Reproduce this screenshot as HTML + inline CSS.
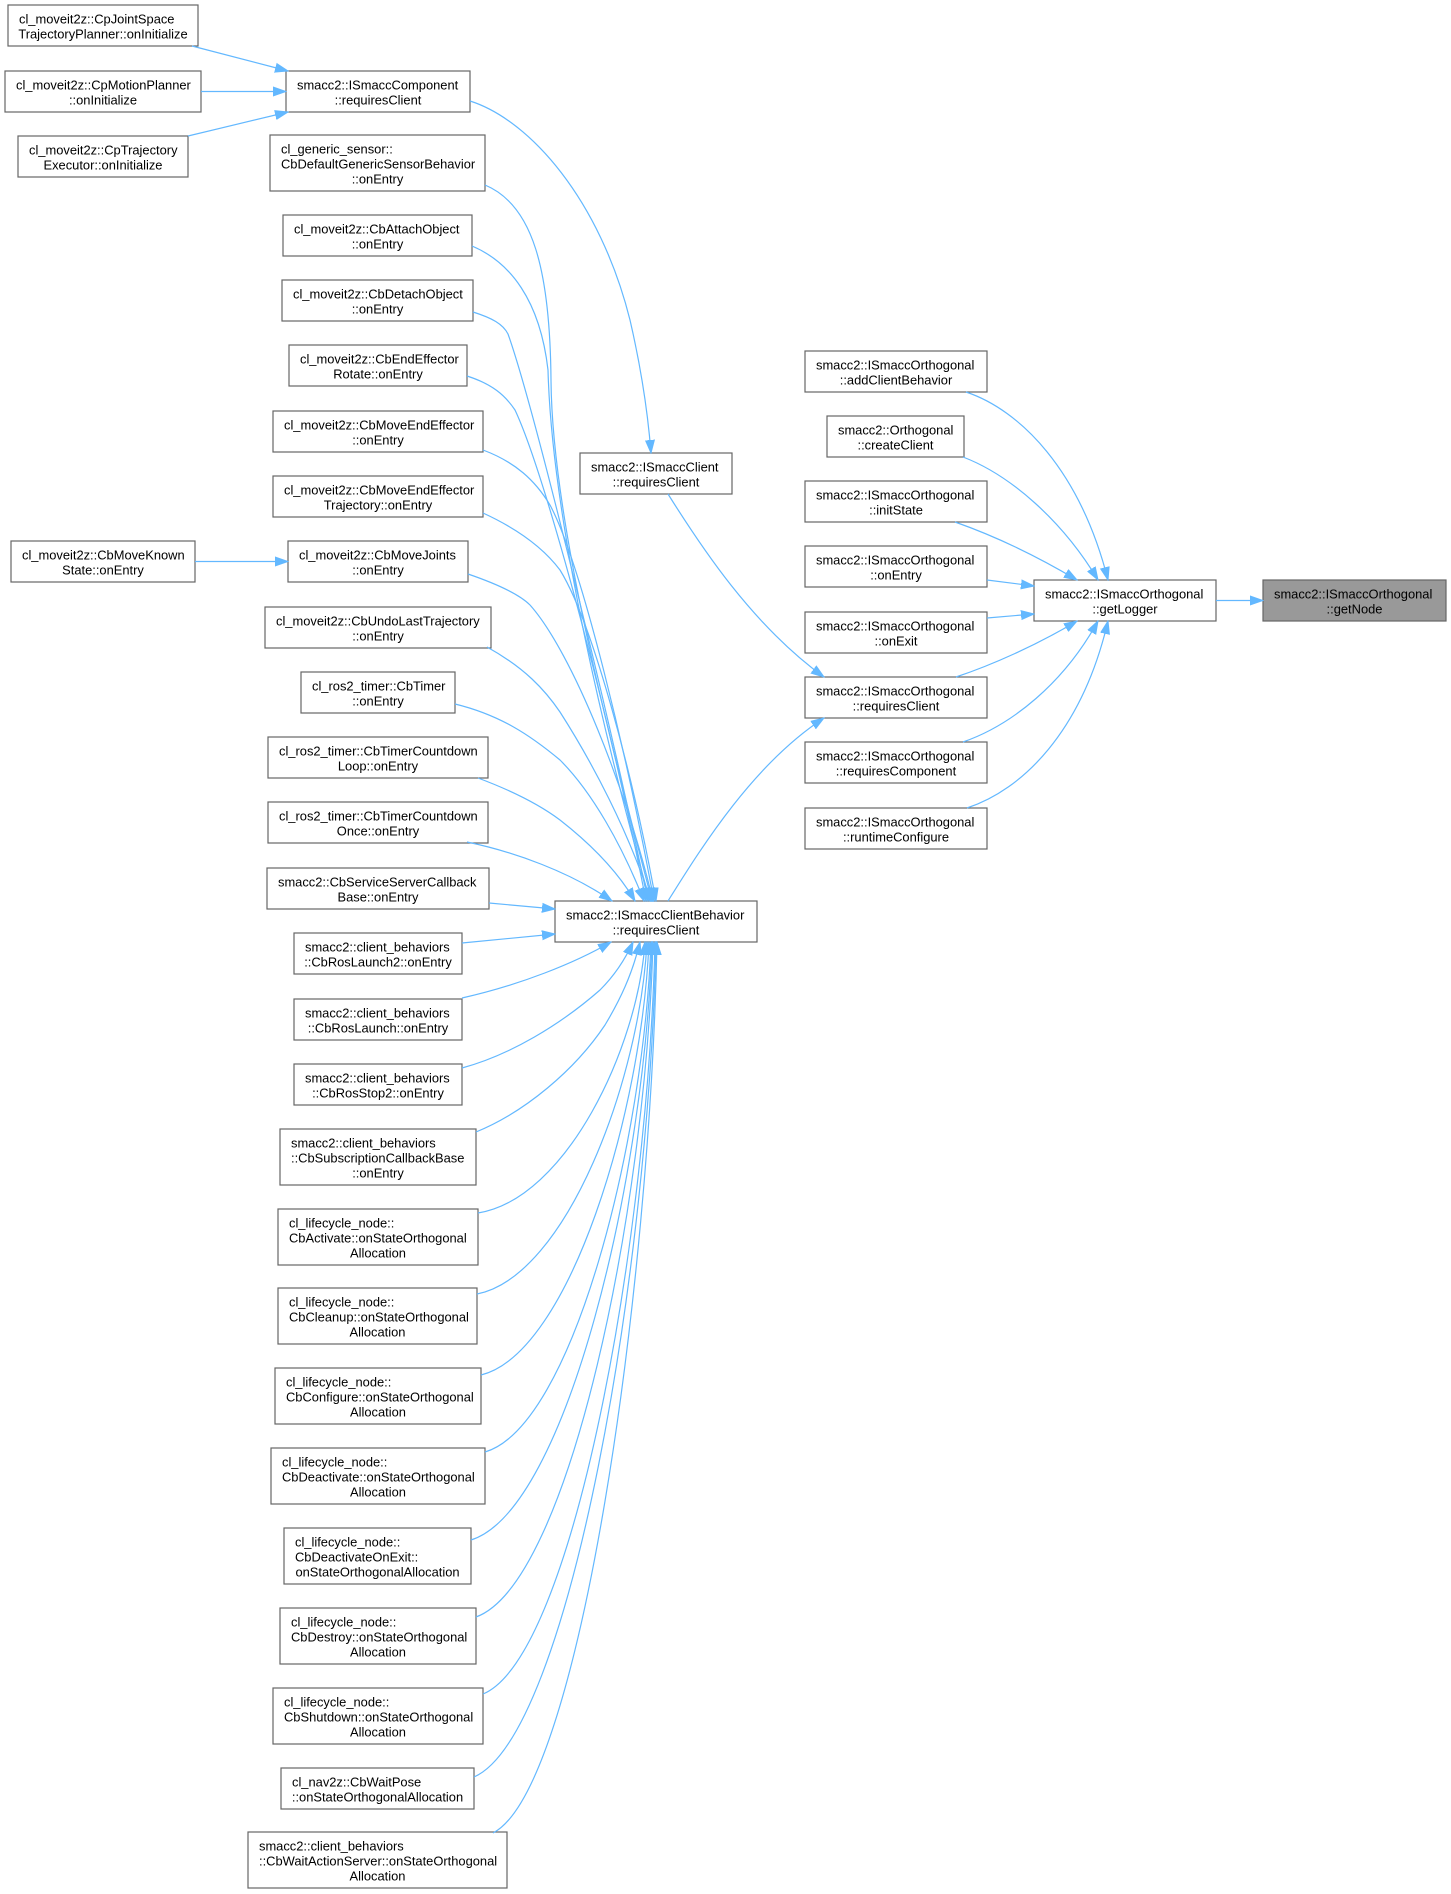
<!DOCTYPE html>
<html>
<head>
<meta charset="utf-8">
<style>
html,body{margin:0;padding:0;background:#fff;}
svg{display:block;}
text{font-family:"Liberation Sans",Arial,sans-serif;font-size:12.9px;fill:#000;}
.n{fill:#fff;stroke:#666;stroke-width:1.2;}
.g{fill:#999;stroke:#666;stroke-width:1.2;}
.e{fill:none;stroke:#63b8ff;stroke-width:1.2;marker-end:url(#ah);}
.m{text-anchor:middle;}
</style>
</head>
<body>
<svg width="1451" height="1894" viewBox="0 0 1451 1894" xmlns="http://www.w3.org/2000/svg">
<defs>
<marker id="ah" markerUnits="userSpaceOnUse" markerWidth="14" markerHeight="11" refX="13" refY="5.5" orient="auto">
<path d="M0,1 L13,5.5 L0,10 z" fill="#63b8ff" stroke="#63b8ff" stroke-width="1"/>
</marker>
</defs>

<!-- Left column -->
<rect class="n" x="8" y="5" width="190" height="41"/>
<text x="19" y="23.4">cl_moveit2z::CpJointSpace</text>
<text class="m" x="103" y="38.5">TrajectoryPlanner::onInitialize</text>

<rect class="n" x="5" y="71" width="196" height="41"/>
<text x="16" y="89.4">cl_moveit2z::CpMotionPlanner</text>
<text class="m" x="103" y="104.5">::onInitialize</text>

<rect class="n" x="18" y="136" width="170" height="41"/>
<text x="29" y="154.4">cl_moveit2z::CpTrajectory</text>
<text class="m" x="103" y="169.5">Executor::onInitialize</text>

<rect class="n" x="11" y="541" width="184" height="41"/>
<text x="22" y="559.4">cl_moveit2z::CbMoveKnown</text>
<text class="m" x="103" y="574.5">State::onEntry</text>

<!-- Middle column -->
<rect class="n" x="286" y="71" width="184" height="41"/>
<text x="297" y="89.4">smacc2::ISmaccComponent</text>
<text class="m" x="378" y="104.5">::requiresClient</text>

<rect class="n" x="270" y="135" width="215" height="56"/>
<text x="281" y="153.4">cl_generic_sensor::</text>
<text x="281" y="168.5">CbDefaultGenericSensorBehavior</text>
<text class="m" x="377.5" y="183.6">::onEntry</text>

<rect class="n" x="283" y="215" width="189" height="41"/>
<text x="294" y="233.4">cl_moveit2z::CbAttachObject</text>
<text class="m" x="377.5" y="248.5">::onEntry</text>

<rect class="n" x="282" y="280" width="191" height="41"/>
<text x="293" y="298.4">cl_moveit2z::CbDetachObject</text>
<text class="m" x="377.5" y="313.5">::onEntry</text>

<rect class="n" x="289" y="345" width="178" height="41"/>
<text x="300" y="363.4">cl_moveit2z::CbEndEffector</text>
<text class="m" x="378" y="378.5">Rotate::onEntry</text>

<rect class="n" x="273" y="411" width="210" height="41"/>
<text x="284" y="429.4">cl_moveit2z::CbMoveEndEffector</text>
<text class="m" x="378" y="444.5">::onEntry</text>

<rect class="n" x="273" y="476" width="210" height="41"/>
<text x="284" y="494.4">cl_moveit2z::CbMoveEndEffector</text>
<text class="m" x="378" y="509.5">Trajectory::onEntry</text>

<rect class="n" x="288" y="541" width="180" height="41"/>
<text x="299" y="559.4">cl_moveit2z::CbMoveJoints</text>
<text class="m" x="378" y="574.5">::onEntry</text>

<rect class="n" x="265" y="607" width="226" height="41"/>
<text x="276" y="625.4">cl_moveit2z::CbUndoLastTrajectory</text>
<text class="m" x="378" y="640.5">::onEntry</text>

<rect class="n" x="301" y="672" width="154" height="41"/>
<text x="312" y="690.4">cl_ros2_timer::CbTimer</text>
<text class="m" x="378" y="705.5">::onEntry</text>

<rect class="n" x="268" y="737" width="220" height="41"/>
<text x="279" y="755.4">cl_ros2_timer::CbTimerCountdown</text>
<text class="m" x="378" y="770.5">Loop::onEntry</text>

<rect class="n" x="268" y="802" width="220" height="41"/>
<text x="279" y="820.4">cl_ros2_timer::CbTimerCountdown</text>
<text class="m" x="378" y="835.5">Once::onEntry</text>

<rect class="n" x="267" y="868" width="222" height="41"/>
<text x="278" y="886.4">smacc2::CbServiceServerCallback</text>
<text class="m" x="378" y="901.5">Base::onEntry</text>

<rect class="n" x="294" y="933" width="168" height="41"/>
<text x="305" y="951.4">smacc2::client_behaviors</text>
<text class="m" x="378" y="966.5">::CbRosLaunch2::onEntry</text>

<rect class="n" x="294" y="999" width="168" height="41"/>
<text x="305" y="1017.4">smacc2::client_behaviors</text>
<text class="m" x="378" y="1032.5">::CbRosLaunch::onEntry</text>

<rect class="n" x="294" y="1064" width="168" height="41"/>
<text x="305" y="1082.4">smacc2::client_behaviors</text>
<text class="m" x="378" y="1097.5">::CbRosStop2::onEntry</text>

<rect class="n" x="280" y="1129" width="196" height="56"/>
<text x="291" y="1147.4">smacc2::client_behaviors</text>
<text x="291" y="1162.5">::CbSubscriptionCallbackBase</text>
<text class="m" x="378" y="1177.6">::onEntry</text>

<rect class="n" x="278" y="1209" width="200" height="56"/>
<text x="289" y="1227.4">cl_lifecycle_node::</text>
<text x="289" y="1242.5">CbActivate::onStateOrthogonal</text>
<text class="m" x="378" y="1257.6">Allocation</text>

<rect class="n" x="278" y="1288" width="199" height="56"/>
<text x="289" y="1306.4">cl_lifecycle_node::</text>
<text x="289" y="1321.5">CbCleanup::onStateOrthogonal</text>
<text class="m" x="377.5" y="1336.6">Allocation</text>

<rect class="n" x="275" y="1368" width="206" height="56"/>
<text x="286" y="1386.4">cl_lifecycle_node::</text>
<text x="286" y="1401.5">CbConfigure::onStateOrthogonal</text>
<text class="m" x="378" y="1416.6">Allocation</text>

<rect class="n" x="271" y="1448" width="214" height="56"/>
<text x="282" y="1466.4">cl_lifecycle_node::</text>
<text x="282" y="1481.5">CbDeactivate::onStateOrthogonal</text>
<text class="m" x="378" y="1496.6">Allocation</text>

<rect class="n" x="284" y="1528" width="187" height="56"/>
<text x="295" y="1546.4">cl_lifecycle_node::</text>
<text x="295" y="1561.5">CbDeactivateOnExit::</text>
<text class="m" x="377.5" y="1576.6">onStateOrthogonalAllocation</text>

<rect class="n" x="280" y="1608" width="196" height="56"/>
<text x="291" y="1626.4">cl_lifecycle_node::</text>
<text x="291" y="1641.5">CbDestroy::onStateOrthogonal</text>
<text class="m" x="378" y="1656.6">Allocation</text>

<rect class="n" x="273" y="1688" width="210" height="56"/>
<text x="284" y="1706.4">cl_lifecycle_node::</text>
<text x="284" y="1721.5">CbShutdown::onStateOrthogonal</text>
<text class="m" x="378" y="1736.6">Allocation</text>

<rect class="n" x="281" y="1768" width="193" height="41"/>
<text x="292" y="1786.4">cl_nav2z::CbWaitPose</text>
<text class="m" x="377.5" y="1801.5">::onStateOrthogonalAllocation</text>

<rect class="n" x="248" y="1832" width="259" height="56"/>
<text x="259" y="1850.4">smacc2::client_behaviors</text>
<text x="259" y="1865.5">::CbWaitActionServer::onStateOrthogonal</text>
<text class="m" x="377.5" y="1880.6">Allocation</text>

<!-- Client column -->
<rect class="n" x="580" y="453" width="152" height="41"/>
<text x="591" y="471.4">smacc2::ISmaccClient</text>
<text class="m" x="656" y="486.5">::requiresClient</text>

<rect class="n" x="555" y="901" width="202" height="41"/>
<text x="566" y="919.4">smacc2::ISmaccClientBehavior</text>
<text class="m" x="656" y="934.5">::requiresClient</text>

<!-- Orthogonal column -->
<rect class="n" x="805" y="351" width="182" height="41"/>
<text x="816" y="369.4">smacc2::ISmaccOrthogonal</text>
<text class="m" x="896" y="384.5">::addClientBehavior</text>

<rect class="n" x="827" y="416" width="137" height="41"/>
<text x="838" y="434.4">smacc2::Orthogonal</text>
<text class="m" x="895.5" y="449.5">::createClient</text>

<rect class="n" x="805" y="481" width="182" height="41"/>
<text x="816" y="499.4">smacc2::ISmaccOrthogonal</text>
<text class="m" x="896" y="514.5">::initState</text>

<rect class="n" x="805" y="546" width="182" height="41"/>
<text x="816" y="564.4">smacc2::ISmaccOrthogonal</text>
<text class="m" x="896" y="579.5">::onEntry</text>

<rect class="n" x="805" y="612" width="182" height="41"/>
<text x="816" y="630.4">smacc2::ISmaccOrthogonal</text>
<text class="m" x="896" y="645.5">::onExit</text>

<rect class="n" x="805" y="677" width="182" height="41"/>
<text x="816" y="695.4">smacc2::ISmaccOrthogonal</text>
<text class="m" x="896" y="710.5">::requiresClient</text>

<rect class="n" x="805" y="742" width="182" height="41"/>
<text x="816" y="760.4">smacc2::ISmaccOrthogonal</text>
<text class="m" x="896" y="775.5">::requiresComponent</text>

<rect class="n" x="805" y="808" width="182" height="41"/>
<text x="816" y="826.4">smacc2::ISmaccOrthogonal</text>
<text class="m" x="896" y="841.5">::runtimeConfigure</text>

<!-- getLogger / getNode -->
<rect class="n" x="1034" y="580" width="182" height="41"/>
<text x="1045" y="598.4">smacc2::ISmaccOrthogonal</text>
<text class="m" x="1125" y="613.5">::getLogger</text>

<rect class="g" x="1263" y="580" width="183" height="41"/>
<text x="1274" y="598.4">smacc2::ISmaccOrthogonal</text>
<text class="m" x="1354.5" y="613.5">::getNode</text>

<!-- Edges -->
<path class="e" d="M192,46 L288,71"/>
<path class="e" d="M201,91.5 L286,91.5"/>
<path class="e" d="M188,136 L288,112"/>
<path class="e" d="M195,561.5 L288,561.5"/>

<path class="e" d="M470,101 C530,120 600,200 630,320 C642,372 648,415 651,453"/>

<!-- upper fan -->
<path class="e" d="M485,185 C533,205 550,270 551,380 C552,520 610,740 652,901"/>
<path class="e" d="M472,246 C510,262 540,300 548,370 C552,520 605,740 650,901"/>
<path class="e" d="M473,312 C492,318 503,324 508,334 C535,410 610,720 648,901"/>
<path class="e" d="M467,376 C492,384 505,395 515,410 C548,480 615,740 646,901"/>
<path class="e" d="M483,450 C515,462 535,480 550,505 C582,565 628,760 654,901"/>
<path class="e" d="M483,513 C520,530 545,550 560,570 C592,622 632,770 656,901"/>
<path class="e" d="M468,574 C500,585 520,595 530,605 C572,652 627,790 653,901"/>
<path class="e" d="M487,647 C525,668 545,690 560,712 C592,762 628,830 651,901"/>
<path class="e" d="M455,704 C500,715 530,735 560,760 C592,792 622,845 644,901"/>
<path class="e" d="M478,778 C510,790 540,805 560,820 C592,845 618,872 635,901"/>
<path class="e" d="M467,842 C515,852 570,872 612,901"/>
<path class="e" d="M489,903 L555,909"/>
<path class="e" d="M462,943 L555,934"/>

<!-- lower fan -->
<path class="e" d="M462,998 C520,985 575,963 611,942"/>
<path class="e" d="M462,1068 C510,1055 560,1025 600,990 C612,978 624,962 633,942"/>
<path class="e" d="M476,1132 C525,1112 575,1070 605,1025 C620,1000 632,975 640,942"/>
<path class="e" d="M478,1213 C566,1199 638,1048 645,942"/>
<path class="e" d="M477,1294 C567,1276 640,1079 647,942"/>
<path class="e" d="M481,1375 C570,1353 642,1111 649,942"/>
<path class="e" d="M485,1452 C573,1426 644,1141 651,942"/>
<path class="e" d="M471,1540 C567,1510 645,1175 652,942"/>
<path class="e" d="M476,1617 C570,1583 646,1205 653,942"/>
<path class="e" d="M483,1694 C574,1656 648,1235 655,942"/>
<path class="e" d="M474,1777 C570,1735 649,1268 656,942"/>
<path class="e" d="M493,1833 C580,1788 650,1290 657,942"/>

<!-- to orthogonal requiresClient -->
<path class="e" d="M668,494 C700,545 752,625 824,677"/>
<path class="e" d="M668,901 C700,850 752,765 824,718"/>

<!-- to getLogger -->
<path class="e" d="M966,392 C1020,410 1080,470 1108,580"/>
<path class="e" d="M963,457 C1010,475 1062,520 1098,580"/>
<path class="e" d="M955,522 C992,535 1035,555 1077,580"/>
<path class="e" d="M987,580 L1034,586"/>
<path class="e" d="M987,618 L1034,614"/>
<path class="e" d="M956,677 C992,665 1037,645 1077,621"/>
<path class="e" d="M963,742 C1012,725 1064,683 1098,621"/>
<path class="e" d="M967,808 C1022,790 1082,732 1108,621"/>

<path class="e" d="M1216,600.5 L1263,600.5"/>
</svg>
</body>
</html>
